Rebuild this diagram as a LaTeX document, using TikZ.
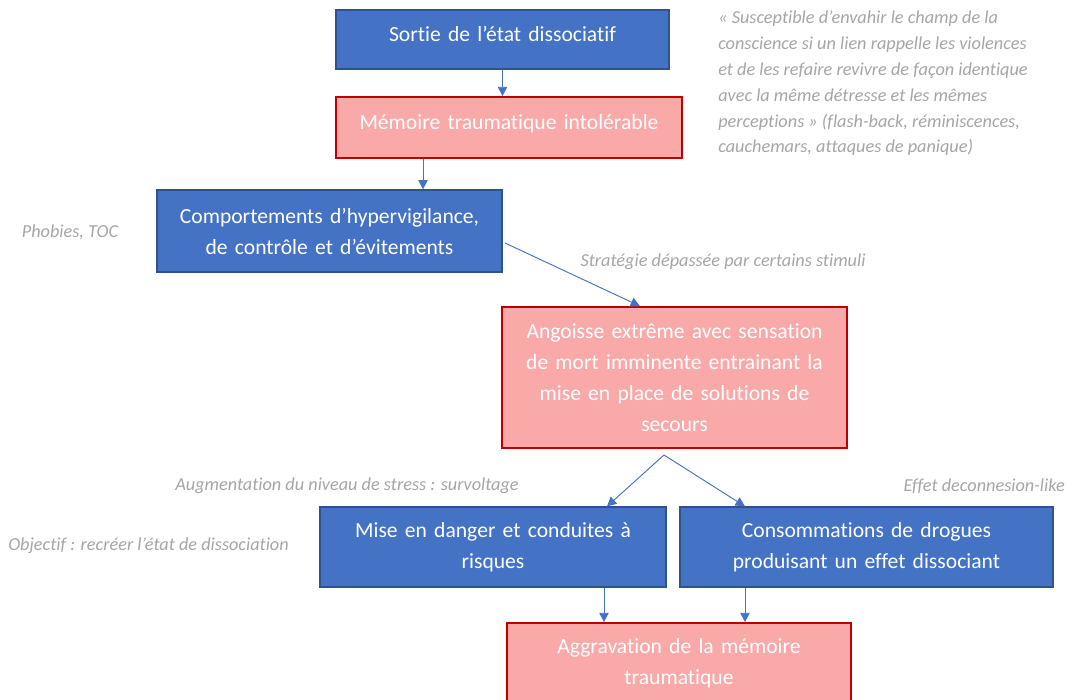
\documentclass[tikz,border=0pt]{standalone}
\usepackage{fontspec}
\setmainfont{Carlito}[Ligatures={NoCommon}]
\usetikzlibrary{arrows.meta}
\definecolor{boxblue}{HTML}{4472C4}
\definecolor{blueedge}{HTML}{2F528F}
\definecolor{boxpink}{HTML}{FAA9A9}
\definecolor{pinkedge}{HTML}{C00000}
\definecolor{notegray}{HTML}{A6A6A6}
\newcommand{\upby}[1]{\raisebox{9pt}{#1}}
\tikzset{
  box/.style={rectangle, inner sep=0pt, align=center, text=white,
    font=\fontsize{16.2}{23.2}\selectfont},
  bluebox/.style={box, fill=boxblue, draw=blueedge, line width=0.9pt},
  pinkbox/.style={box, fill=boxpink, draw=pinkedge, line width=1.3pt},
  note/.style={inner sep=0pt, text=notegray, font=\fontsize{13.7}{19.35}\selectfont\itshape},
  arr/.style={draw=boxblue, line width=0.7pt, -{Triangle[width=7pt,length=7pt]}}
}
\begin{document}
\begin{tikzpicture}[x=0.75pt, y=-0.75pt]
\useasboundingbox (0,0) rectangle (1075,700);
\fill[white] (0,0) rectangle (1075,700);
% boxes
\node[bluebox, minimum width=333*0.75pt, minimum height=59*0.75pt, text width=320*0.75pt] (b1) at (502.5,39.5) {\upby{Sortie de l’état dissociatif}};
\node[pinkbox, minimum width=346*0.75pt, minimum height=61*0.75pt, text width=340*0.75pt] (b2) at (509,127.5) {\upby{Mémoire traumatique intolérable}};
\node[bluebox, minimum width=345*0.75pt, minimum height=82*0.75pt, text width=340*0.75pt] (b3) at (329.5,231) {Comportements d’hypervigilance,\\de contrôle et d’évitements};
\node[pinkbox, minimum width=345*0.75pt, minimum height=141*0.75pt, text width=340*0.75pt] (b4) at (674.5,377.5) {Angoisse extrême avec sensation\\de mort imminente entrainant la\\mise en place de solutions de\\secours};
\node[bluebox, minimum width=346*0.75pt, minimum height=80*0.75pt, text width=340*0.75pt] (b5) at (493,547) {Mise en danger et conduites à\\risques};
\node[bluebox, minimum width=373*0.75pt, minimum height=80*0.75pt, text width=365*0.75pt] (b6) at (866.5,547) {Consommations de drogues\\produisant un effet dissociant};
\node[pinkbox, minimum width=344*0.75pt, minimum height=80*0.75pt, text width=340*0.75pt] (b7) at (679,663) {Aggravation de la mémoire\\traumatique};
% notes
\node[note, anchor=north west, align=left] (q) at (718,11) {« Susceptible d’envahir le champ de la\\conscience si un lien rappelle les violences\\et de les refaire revivre de façon identique\\avec la même détresse et les mêmes\\perceptions » (flash-back, réminiscences,\\cauchemars, attaques de panique)};
\node[note] (n1) at (70,232) {Phobies, TOC};
\node[note] (n2) at (723,262) {Stratégie dépassée par certains stimuli};
\node[note] (n3) at (347,486) {Augmentation du niveau de stress : survoltage};
\node[note, anchor=east] (n4) at (1065,486) {Effet deconnesion-like};
\node[note, anchor=west] (n5) at (8,546) {Objectif : recréer l’état de dissociation};
% connector helpers
\coordinate (x2) at (423,0);
\coordinate (s3) at (505,243);
\coordinate (x4) at (640,0);
\coordinate (ap) at (664,455);
\coordinate (x5) at (607,0);
\coordinate (x6) at (745,0);
\coordinate (x75) at (604,0);
% connectors
\draw[arr] (b1.south) -- (b1.south |- b2.north);
\draw[arr] (b2.south -| x2) -- (b3.north -| x2);
\draw[arr] (s3) -- (b4.north -| x4);
\draw[arr] (ap) -- (b5.north -| x5);
\draw[arr] (ap) -- (b6.north -| x6);
\draw[arr] (b5.south -| x75) -- (b7.north -| x75);
\draw[arr] (b6.south -| x6) -- (b7.north -| x6);
\end{tikzpicture}
\end{document}
